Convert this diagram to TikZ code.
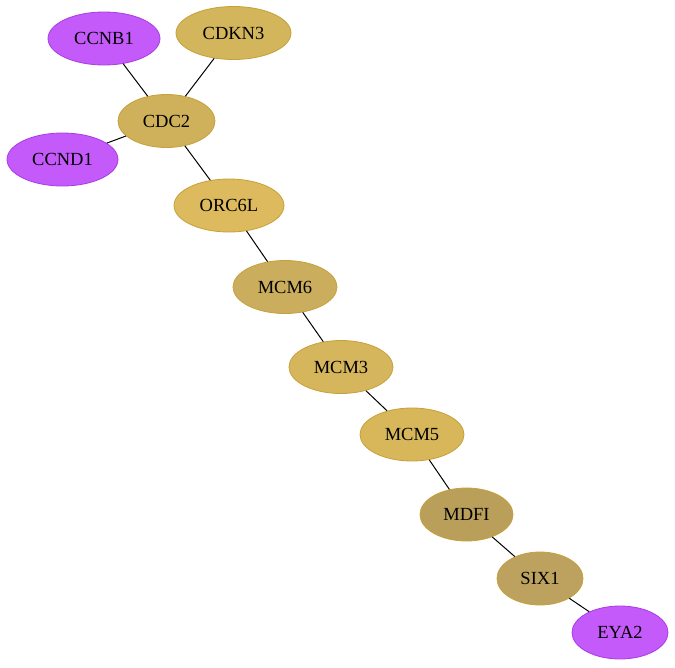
\documentclass[tikz,border=0pt]{standalone}
\usepackage{fontspec}
\setmainfont{Liberation Serif}
\usetikzlibrary{shapes.geometric}
\definecolor{tim}{HTML}{C45AFA}
\definecolor{timvien}{HTML}{A93BE6}
\definecolor{vangvien}{HTML}{C7A03A}
\definecolor{vangA}{HTML}{D3B55C}
\definecolor{vangB}{HTML}{CFB05B}
\definecolor{vangC}{HTML}{DCBA5D}
\definecolor{vangD}{HTML}{CAAE5E}
\definecolor{vangE}{HTML}{D6B65D}
\definecolor{vangF}{HTML}{D8B75A}
\definecolor{vangG}{HTML}{BA9F5B}
\definecolor{vangH}{HTML}{BCA25E}
\begin{document}
\begin{tikzpicture}[x=1pt,y=-1pt,
		gen/.style={ellipse,draw,line width=.8pt,minimum height=53pt,inner sep=0pt,font=\fontsize{18.5}{21}\selectfont},
		tim/.style={gen,fill=tim,draw=timvien},
		vang/.style={gen,draw=vangvien,fill=#1}]
	\useasboundingbox (0,0) rectangle (675,667);
	\path (104,38.5)node[tim,minimum width=112pt](ccnb){CCNB1}
	(233.5,33)node[vang=vangA,minimum width=115pt](cdkn){CDKN3}
	(166.5,121)node[vang=vangB,minimum width=97pt](cdc){CDC2}
	(62.5,159.5)node[tim,minimum width=111pt](ccnd){CCND1}
	(229,205.5)node[vang=vangC,minimum width=110pt](orc){ORC6L}
	(285,287)node[vang=vangD,minimum width=104pt](mcmsau){MCM6}
	(341,367)node[vang=vangE,minimum width=104pt](mcmba){MCM3}
	(412,434.5)node[vang=vangF,minimum width=104pt](mcmnam){MCM5}
	(466.5,514.5)node[vang=vangG,minimum width=93pt](mdfi){MDFI}
	(540,578.5)node[vang=vangH,minimum width=86pt](six){SIX1}
	(620,632.5)node[tim,minimum width=96pt](eya){EYA2};
	% các cạnh
	\foreach \u/\v in {ccnb/cdc,cdkn/cdc,ccnd/cdc,cdc/orc,orc/mcmsau,mcmsau/mcmba,mcmba/mcmnam,mcmnam/mdfi,mdfi/six,six/eya}
	\draw[line width=1pt] (\u)--(\v);
\end{tikzpicture}
\end{document}
